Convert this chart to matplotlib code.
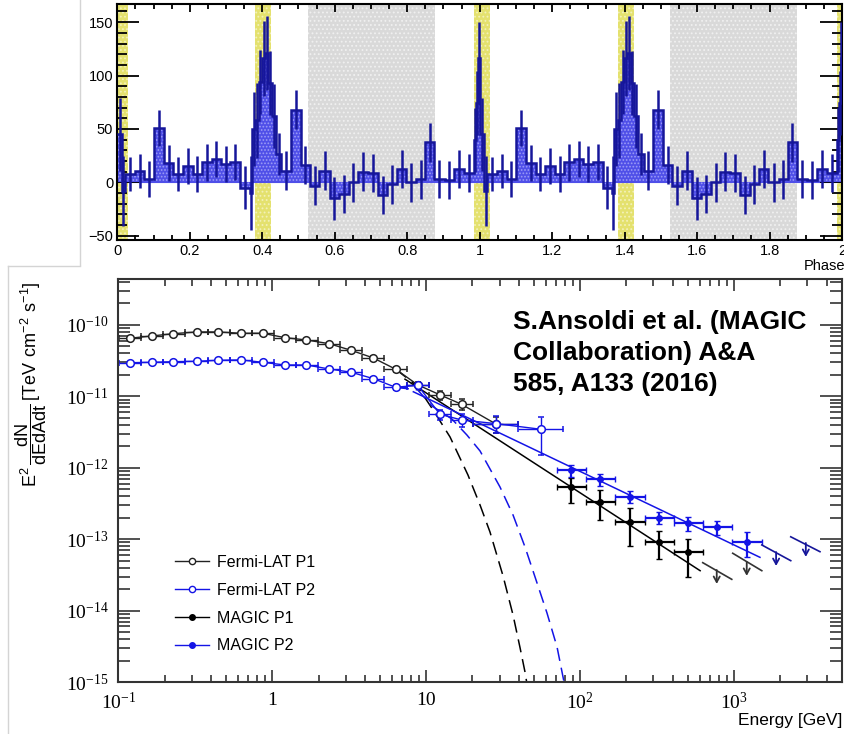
import numpy as np
import matplotlib.pyplot as plt
from matplotlib.lines import Line2D
from matplotlib.ticker import MultipleLocator, FixedLocator, FuncFormatter, NullFormatter
from matplotlib.transforms import offset_copy

# ---- phaseogram, one period (drawn twice) ----
phase_edges = [0.0, 0.0125, 0.0212, 0.0488, 0.0744, 0.100, 0.1287, 0.1543, 0.180,
               0.2077, 0.2333, 0.260, 0.2857, 0.3124, 0.340, 0.3656, 0.372, 0.381, 0.390,
               0.399, 0.408, 0.417, 0.426, 0.437, 0.453, 0.478, 0.506, 0.531, 0.558,
               0.586, 0.612, 0.639, 0.664, 0.692, 0.719, 0.745, 0.772, 0.797, 0.825,
               0.850, 0.875, 0.903, 0.930, 0.958, 0.9855, 0.991, 0.9966, 1.0]
excess = [45, -8, 8, 10.6, 3, 50.6, 17.8, 8, 15.6,
          8, 18.7, 22, 17, 19, -5, -10, 50, 58, 94,
          116, 121, 93, 62, 26.5, 11, 68, 16, -3, 11,
          -15, -11, 0, 10, 8.7, -12, -2, 12.5, 0, 2.8,
          37.5, 3, 2, 12.5, 9, 40, 74, 116]
excess_err = [34, 33, 16, 16, 17, 17, 17, 16, 17,
              17, 17, 17, 17, 17, 20, 35, 35, 35, 30,
              35, 35, 30, 30, 20, 18, 18, 18, 18, 18,
              20, 18, 18, 18, 18, 18, 18, 18, 18, 18,
              18, 18, 18, 18, 18, 30, 30, 34]
p1_band = (-0.015, 0.029)
p2_band = (0.381, 0.425)
off_band = (0.525, 0.877)

# ---- SED ----
fermi_edges = [0.101, 0.140, 0.194, 0.271, 0.380, 0.528, 0.736, 1.02, 1.42, 1.98,
               2.75, 3.84, 5.36, 7.46, 10.4, 14.5, 20.2, 39.5, 77.6]
fermi_e = [0.119, 0.165, 0.228, 0.323, 0.447, 0.624, 0.867, 1.21, 1.67, 2.34,
           3.25, 4.54, 6.34, 8.81, 12.3, 17.0, 28.4, 55.6]
fermi_p1 = [6.52e-11, 7.01e-11, 7.55e-11, 7.98e-11, 7.98e-11, 7.65e-11, 7.65e-11, 6.64e-11,
            6.16e-11, 5.47e-11, 4.42e-11, 3.45e-11, 2.40e-11, 1.45e-11, 1.05e-11, 7.74e-12,
            4.10e-12]
fermi_p1_err = [1.0e-12, 1.0e-12, 1.0e-12, 1.1e-12, 1.1e-12, 1.2e-12, 1.3e-12, 1.4e-12,
                1.5e-12, 1.6e-12, 1.6e-12, 1.7e-12, 1.8e-12, 1.6e-12, 1.5e-12, 1.4e-12,
                1.0e-12]
fermi_p2 = [2.96e-11, 3.00e-11, 3.06e-11, 3.10e-11, 3.20e-11, 3.24e-11, 3.00e-11, 2.75e-11,
            2.75e-11, 2.42e-11, 2.18e-11, 1.77e-11, 1.34e-11, 1.43e-11, 5.61e-12, 4.67e-12,
            4.15e-12, 3.46e-12]
fermi_p2_err_lo = [6e-13, 6e-13, 6e-13, 6e-13, 7e-13, 7e-13, 7e-13, 8e-13, 8e-13, 8e-13,
                   9e-13, 9e-13, 1.0e-12, 1.1e-12, 9e-13, 1.0e-12, 1.1e-12, 1.95e-12]
fermi_p2_err_hi = [6e-13, 6e-13, 6e-13, 6e-13, 7e-13, 7e-13, 7e-13, 8e-13, 8e-13, 8e-13,
                   9e-13, 9e-13, 1.0e-12, 1.1e-12, 9e-13, 1.0e-12, 1.1e-12, 1.74e-12]

magic_edges = [70.5, 109, 169, 263, 407, 631, 977, 1514]
magic_e = [88, 135, 211, 327, 505, 780, 1222]
magic_p1 = [5.33e-13, 3.35e-13, 1.73e-13, 9.2e-14, 6.56e-14]
magic_p1_lo = [2.15e-13, 1.49e-13, 9.4e-14, 3.94e-14, 3.58e-14]
magic_p1_hi = [1.80e-13, 1.53e-13, 9.9e-14, 3.9e-14, 3.5e-14]
magic_p2 = [9.3e-13, 6.9e-13, 3.94e-13, 2.0e-13, 1.67e-13, 1.50e-13, 9.2e-14]
magic_p2_lo = [1.8e-13, 1.34e-13, 7.6e-14, 3.8e-14, 3.5e-14, 3.5e-14, 3.5e-14]
magic_p2_hi = [1.63e-13, 1.21e-13, 8.4e-14, 3.8e-14, 3.6e-14, 3.2e-14, 3.5e-14]

# upper limits: arrow position and short segment (E1, F1, E2, F2)
ul_p1_e = [773, 1211]
ul_p1_f = [3.7e-14, 4.8e-14]
ul_p1_seg = [(627, 4.69e-14, 968, 2.74e-14), (982, 6.35e-14, 1517, 3.62e-14)]
ul_p2_e = [1879, 2931]
ul_p2_f = [6.6e-14, 8.85e-14]
ul_p2_seg = [(1517, 8.3e-14, 2339, 5.0e-14), (2339, 1.08e-13, 3622, 6.68e-14)]

# power-law fits (end points) and cutoff curves
pl_p1 = ([7.29, 603], [1.74e-11, 3.62e-14])
pl_p2 = ([8.26, 1476], [1.16e-11, 5.57e-14])
cut_p1_e = [6.35, 8.73, 11.1, 14.3, 18.7, 22.4, 26.0, 31.6, 36.7, 40.8, 43.9, 45.9]
cut_p1_f = [2.40e-11, 1.40e-11, 6.45e-12, 2.70e-12, 7.92e-13, 3.01e-13, 1.26e-13, 3.06e-14,
            8.68e-15, 2.99e-15, 1.38e-15, 7.7e-16]
cut_p2_e = [6.35, 8.82, 10.9, 14.7, 18.4, 22.4, 30.2, 36.7, 43.9, 51.0, 61.0, 70.9, 78.7, 81.1]
cut_p2_f = [1.34e-11, 1.23e-11, 7.34e-12, 4.82e-12, 2.88e-12, 1.72e-12, 5.38e-13, 2.18e-13,
            7.78e-14, 2.96e-14, 9.25e-15, 3.09e-15, 1.0e-15, 7.2e-16]

BLUE = '#1414e6'
NAVY = '#16169a'
W, H = 845, 734


def xerr_from(edges, centers):
    lo = [c - edges[i] for i, c in enumerate(centers)]
    hi = [edges[i + 1] - c for i, c in enumerate(centers)]
    return [lo, hi]


def main():
    plt.rcParams['lines.scale_dashes'] = False
    plt.rcParams['hatch.linewidth'] = 0.8
    fig = plt.figure(figsize=(W / 100, H / 100), dpi=100)

    # image borders of the composite
    for xs, ys in [([80, 80], [0, 265]), ([8, 80], [266, 266]), ([8, 8], [266, 734])]:
        fig.add_artist(Line2D([x / W for x in xs], [1 - y / H for y in ys],
                              transform=fig.transFigure, color='#d4d4d4', lw=1))

    # ---------------- top panel ----------------
    ax1 = fig.add_axes([117.3 / W, 1 - 240 / H, (842 - 117.3) / W, 236 / H])
    for k in range(3):
        for b in (p1_band, p2_band):
            ax1.axvspan(b[0] + k, b[1] + k, facecolor='#e4e16e', edgecolor='#f3f1b8',
                        hatch='....', lw=0, zorder=0)
    for k in range(2):
        ax1.axvspan(off_band[0] + k, off_band[1] + k, facecolor='#d9d9d9',
                    edgecolor='#f0f0f0', hatch='....', lw=0, zorder=0)

    edges = phase_edges + [e + 1 for e in phase_edges[1:]]
    vals = excess + excess
    errs = excess_err + excess_err
    centers = [(edges[i] + edges[i + 1]) / 2 for i in range(len(vals))]
    ax1.stairs(vals, edges, baseline=0, fill=True, facecolor='#4f4fe8',
               edgecolor='#9c9cf6', hatch='.....', lw=0, zorder=2)
    ax1.stairs(vals, edges, baseline=None, color=NAVY, lw=1.8, zorder=3)
    ax1.errorbar(centers, vals, yerr=errs, fmt='none', ecolor=NAVY, elinewidth=1.8,
                 capsize=0, zorder=4)
    ax1.axhline(0, color='#4f4fe8', lw=0.8, zorder=1.5)

    ax1.set_xlim(0, 2)
    ax1.set_ylim(-54, 167)
    ax1.xaxis.set_major_locator(MultipleLocator(0.2))
    ax1.xaxis.set_minor_locator(MultipleLocator(0.05))
    ax1.yaxis.set_major_locator(MultipleLocator(50))
    ax1.yaxis.set_minor_locator(MultipleLocator(10))
    ax1.xaxis.set_major_formatter(FuncFormatter(lambda v, p: '%g' % round(v, 2)))
    ax1.tick_params(which='both', direction='in', top=True, right=True, width=1.3,
                    colors='black', labelsize=10.5)
    ax1.tick_params(axis='y', which='major', length=16, pad=3)
    ax1.tick_params(axis='y', which='minor', length=7.5)
    ax1.tick_params(axis='x', which='major', length=6, pad=3)
    ax1.tick_params(axis='x', which='minor', length=3.5)
    for lab in ax1.get_xticklabels() + ax1.get_yticklabels():
        lab.set_family('Liberation Sans')
    for s in ax1.spines.values():
        s.set_linewidth(1.5)
    fig.text(845 / W, 1 - 266 / H, 'Phase', ha='right', va='center', fontsize=10.5,
             family='Liberation Sans')

    # ---------------- bottom panel ----------------
    ax2 = fig.add_axes([118.3 / W, 1 - 682 / H, (842 - 118.3) / W, 403 / H])
    ax2.set_xscale('log')
    ax2.set_yscale('log')

    ax2.plot(cut_p1_e, cut_p1_f, color='black', lw=1.1, dashes=(9.5, 5))
    ax2.plot(cut_p2_e, cut_p2_f, color=BLUE, lw=1.1, dashes=(9.5, 5))
    ax2.plot(pl_p1[0], pl_p1[1], color='black', lw=1.1)
    ax2.plot(pl_p2[0], pl_p2[1], color=BLUE, lw=1.1)

    ax2.errorbar(fermi_e[:len(fermi_p1)], fermi_p1,
                 xerr=xerr_from(fermi_edges, fermi_e[:len(fermi_p1)]), yerr=fermi_p1_err,
                 fmt='o-', color='#222222', mfc='white', mec='#222222', ms=5.5, mew=1.1,
                 lw=1.0, elinewidth=1.0, capsize=2)
    ax2.errorbar(fermi_e, fermi_p2, xerr=xerr_from(fermi_edges, fermi_e),
                 yerr=[fermi_p2_err_lo, fermi_p2_err_hi], fmt='o-', color=BLUE, mfc='white',
                 mec=BLUE, ms=5.5, mew=1.1, lw=1.0, elinewidth=1.0, capsize=2)

    n1 = len(magic_p1)
    ax2.errorbar(magic_e[:n1], magic_p1, xerr=xerr_from(magic_edges, magic_e[:n1]),
                 yerr=[magic_p1_lo, magic_p1_hi], fmt='o', color='black', ms=4, lw=1.6,
                 elinewidth=1.6, capsize=2)
    ax2.errorbar(magic_e, magic_p2, xerr=xerr_from(magic_edges, magic_e),
                 yerr=[magic_p2_lo, magic_p2_hi], fmt='o', color=BLUE, ms=4, lw=1.6,
                 elinewidth=1.6, capsize=2)

    for segs, es, fs, col in [(ul_p1_seg, ul_p1_e, ul_p1_f, '#333333'),
                              (ul_p2_seg, ul_p2_e, ul_p2_f, NAVY)]:
        for (e1, f1, e2, f2) in segs:
            ax2.plot([e1, e2], [f1, f2], color=col, lw=1.2)
        tip = offset_copy(ax2.transData, fig=fig, x=0, y=-10, units='points')
        for e, f in zip(es, fs):
            ax2.annotate('', xy=(e, f), xycoords=tip, xytext=(e, f), textcoords='data',
                         arrowprops=dict(arrowstyle='->,head_width=0.22,head_length=0.4',
                                         color=col, lw=1.3, shrinkA=0, shrinkB=0))

    ax2.set_xlim(0.1, 5036)
    ax2.set_ylim(1e-15, 4.4e-10)
    ax2.xaxis.set_major_locator(FixedLocator([0.1, 1, 10, 100, 1000]))
    ax2.xaxis.set_minor_locator(FixedLocator(
        [m * 10.0 ** d for d in range(-1, 4) for m in range(2, 10) if m * 10.0 ** d < 5036]))
    ax2.yaxis.set_major_locator(FixedLocator([10.0 ** d for d in range(-15, -9)]))
    ax2.yaxis.set_minor_locator(FixedLocator(
        [m * 10.0 ** d for d in range(-15, -9) for m in range(2, 10)]))
    xlab = {0.1: r'$\mathregular{10^{-1}}$', 1: '1', 10: '10',
            100: r'$\mathregular{10^{2}}$', 1000: r'$\mathregular{10^{3}}$'}
    ax2.xaxis.set_major_formatter(FuncFormatter(
        lambda v, p: xlab.get(round(v, 1) if v < 1 else int(round(v)), '')))
    ax2.yaxis.set_major_formatter(FuncFormatter(
        lambda v, p: r'$\mathregular{10^{%d}}$' % int(round(np.log10(v)))))
    ax2.xaxis.set_minor_formatter(NullFormatter())
    ax2.yaxis.set_minor_formatter(NullFormatter())
    ax2.tick_params(which='both', direction='in', top=True, right=True, width=1.2,
                    color='#333333', labelsize=14)
    ax2.tick_params(axis='y', which='major', length=15.5, pad=7)
    ax2.tick_params(axis='y', which='minor', length=8.5)
    ax2.tick_params(axis='x', which='major', length=8.5, pad=7)
    ax2.tick_params(axis='x', which='minor', length=5)
    for lab in ax2.get_xticklabels() + ax2.get_yticklabels():
        lab.set_family('Liberation Serif')
    for s in ax2.spines.values():
        s.set_linewidth(1.5)
        s.set_color('#333333')

    fig.text(842 / W, 1 - 721 / H, 'Energy [GeV]', ha='right', va='center', fontsize=12.5,
             family='Liberation Sans')
    fig.text(31 / W, 1 - 384 / H,
             r'$\mathregular{E^{2}\,\dfrac{dN}{dEdAdt}\,[TeV\ cm^{-2}\ s^{-1}]}$',
             rotation=90, ha='center', va='center', fontsize=13, family='Liberation Sans')

    ax2.text(0.545, 0.922, 'S.Ansoldi et al. (MAGIC\nCollaboration) A&A\n585, A133 (2016)',
             transform=ax2.transAxes, ha='left', va='top', fontsize=19, fontweight='bold',
             family='Liberation Sans', linespacing=1.37)

    handles = [
        Line2D([], [], color='#222222', lw=1, marker='o', mfc='white', mec='#222222', ms=4.5),
        Line2D([], [], color=BLUE, lw=1, marker='o', mfc='white', mec=BLUE, ms=4.5),
        Line2D([], [], color='black', lw=1, marker='o', ms=4),
        Line2D([], [], color=BLUE, lw=1, marker='o', ms=4),
    ]
    labels = ['Fermi-LAT P1', 'Fermi-LAT P2', 'MAGIC P1', 'MAGIC P2']
    ax2.legend(handles, labels, loc='upper left', bbox_to_anchor=(0.079, 0.315),
               frameon=False, borderpad=0, borderaxespad=0, handlelength=2.1,
               handletextpad=0.5, labelspacing=0.8,
               prop={'family': 'Liberation Sans', 'size': 11.5})

    fig.savefig('out.png', dpi=100)


if __name__ == '__main__':
    main()
